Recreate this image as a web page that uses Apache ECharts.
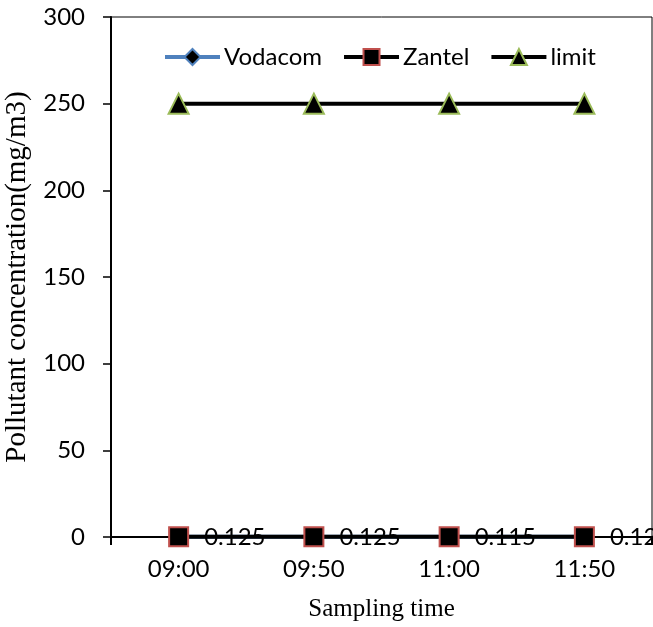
<!DOCTYPE html>
<html>
<head>
<meta charset="utf-8">
<script src="https://cdn.jsdelivr.net/npm/echarts@6/dist/echarts.min.js"></script>
<style>html,body{margin:0;padding:0;background:#fff;}#chart{width:653px;height:627px;}</style>
</head>
<body>
<div id="chart"></div>
<script>
var categories = ['09:00', '09:50', '11:00', '11:50'];
var vodacom = [0.11, 0.12, 0.1, 0.11];
var zantel = [0.125, 0.125, 0.115, 0.12];
var limit = [250, 250, 250, 250];
var yTicks = [0, 50, 100, 150, 200, 250, 300];

var FONT = 'Lato';
var chart = echarts.init(document.getElementById('chart'));
chart.setOption({
  animation: false,
  backgroundColor: '#fff',
  grid: { left: 111, right: 1, top: 17, bottom: 90, show: true, borderColor: '#000', borderWidth: 1, backgroundColor: 'transparent', outerBoundsMode: 'none', containLabel: false },
  legend: {
    top: 40, left: 158,
    itemWidth: 55, itemHeight: 20, itemGap: 20,
    lineStyle: { width: 4 },
    textStyle: { fontFamily: FONT, fontSize: 24, color: '#000', padding: [0, 0, 0, -1] },
    data: ['Vodacom', 'Zantel', 'limit']
  },
  xAxis: {
    type: 'category',
    data: categories,
    boundaryGap: true,
    name: 'Sampling time',
    nameLocation: 'middle',
    nameGap: 60,
    nameTextStyle: { fontFamily: 'Liberation Serif', fontSize: 25, color: '#000' },
    axisLine: { lineStyle: { color: '#000', width: 2 } },
    axisTick: { show: true, interval: function (i) { return i === 0; }, length: 8, lineStyle: { color: '#000', width: 2 } },
    axisLabel: { fontFamily: FONT, fontSize: 24, color: '#000', margin: 20 },
    splitLine: { show: false }
  },
  yAxis: {
    type: 'value',
    min: yTicks[0], max: yTicks[yTicks.length - 1], interval: 50,
    name: 'Pollutant concentration(mg/m3)',
    nameLocation: 'middle',
    nameGap: 74,
    nameTextStyle: { fontFamily: 'Liberation Serif', fontSize: 29, color: '#000' },
    axisLine: { show: true, lineStyle: { color: '#000', width: 2 } },
    axisTick: { show: true, length: 8, lineStyle: { color: '#000', width: 1.5 } },
    axisLabel: { fontFamily: FONT, fontSize: 24, color: '#000', margin: 26 },
    splitLine: { show: false }
  },
  series: [
    {
      name: 'Vodacom', type: 'line', data: vodacom,
      lineStyle: { color: '#4F81BD', width: 4 },
      itemStyle: { color: '#000', borderColor: '#4F81BD', borderWidth: 1 },
      symbol: 'diamond', symbolSize: 14, z: 2
    },
    {
      name: 'Zantel', type: 'line', data: zantel,
      lineStyle: { color: '#000', width: 4 },
      itemStyle: { color: '#000', borderColor: '#C0504D', borderWidth: 2 },
      symbol: 'rect', symbolSize: 19, z: 3,
      label: { show: true, position: 'right', distance: 15, fontFamily: FONT, fontSize: 24, color: '#000' }
    },
    {
      name: 'limit', type: 'line', data: limit,
      lineStyle: { color: '#000', width: 4 },
      itemStyle: { color: '#000', borderColor: '#9BBB59', borderWidth: 2 },
      symbol: 'triangle', symbolSize: 20, z: 3
    }
  ]
});
</script>
</body>
</html>
